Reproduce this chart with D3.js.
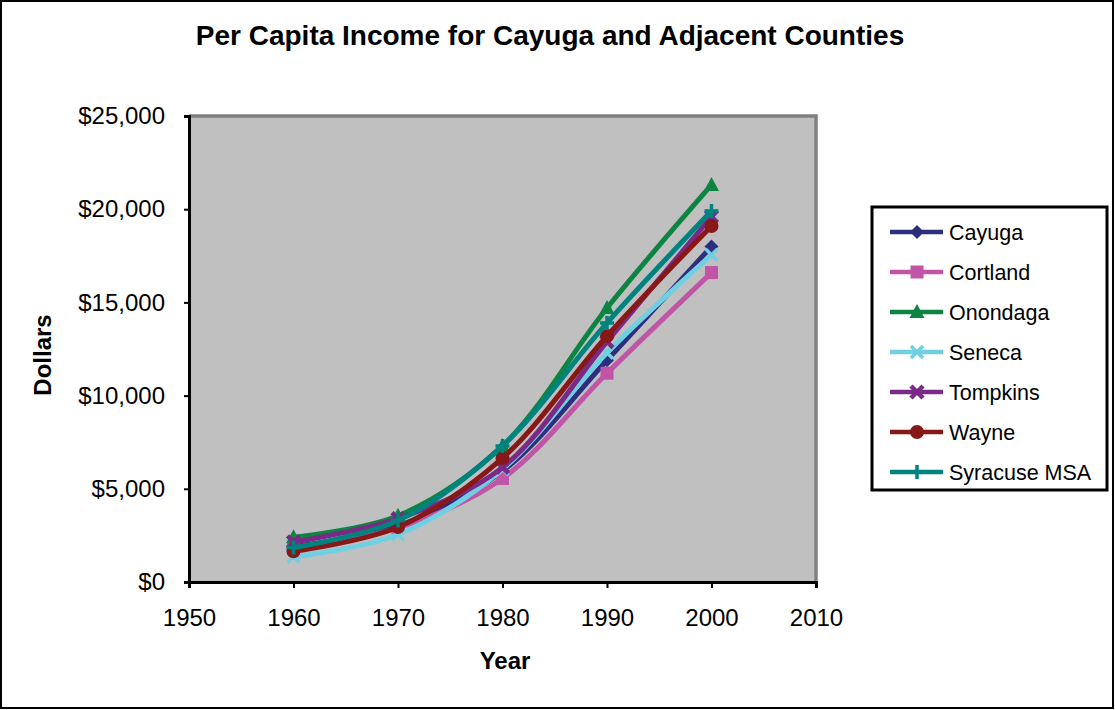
<!DOCTYPE html>
<html>
<head>
<meta charset="utf-8">
<script src="https://cdn.jsdelivr.net/npm/d3@7/dist/d3.min.js"></script>
<style>
  html, body { margin: 0; padding: 0; background: #fff; }
  svg { display: block; font-family: "Liberation Sans", Arial, sans-serif; }
</style>
</head>
<body>
<svg id="chart" width="1115" height="710"></svg>
<script>
const years = [1960, 1970, 1980, 1990, 2000];
const seriesNames = ["Cayuga", "Cortland", "Onondaga", "Seneca", "Tompkins", "Wayne", "Syracuse MSA"];
const cayuga    = [1900, 3000, 5950, 11900, 18000];
const cortland  = [1800, 2900, 5550, 11200, 16600];
const onondaga  = [2400, 3550, 7300, 14700, 21300];
const seneca    = [1350, 2550, 6050, 12300, 17550];
const tompkins  = [2150, 3400, 6150, 12900, 19600];
const wayne     = [1650, 2950, 6650, 13200, 19100];
const syracuse  = [1850, 3300, 7300, 13900, 19900];
const seriesValues = [cayuga, cortland, onondaga, seneca, tompkins, wayne, syracuse];
const seriesColors = ["#2E2E7E", "#C055A8", "#0E8442", "#70D0E2", "#7A2A86", "#861818", "#00827F"];
const seriesMarkers = ["diamond", "square", "triangle", "x", "star", "circle", "plus"];
const yTicks = [0, 5000, 10000, 15000, 20000, 25000];
const xTicks = [1950, 1960, 1970, 1980, 1990, 2000, 2010];

const svg = d3.select("#chart");
const W = 1115, H = 710;

// outer border
svg.append("rect").attr("x", 1).attr("y", 1).attr("width", W - 3).attr("height", H - 3)
  .attr("fill", "#fff").attr("stroke", "#000").attr("stroke-width", 2);

const x = d3.scaleLinear().domain([1950, 2010]).range([189, 816]);
const y = d3.scaleLinear().domain([0, 25000]).range([582, 116]);

// plot area
svg.append("rect").attr("x", x(1950)).attr("y", y(25000))
  .attr("width", x(2010) - x(1950)).attr("height", y(0) - y(25000))
  .attr("fill", "#C0C0C0");
svg.append("path")
  .attr("d", `M${x(1950)},${y(25000)}H${x(2010)}V${y(0)}`)
  .attr("fill", "none").attr("stroke", "#808080").attr("stroke-width", 3.5);

// axes
const yAxis = d3.axisLeft(y).tickValues(yTicks).tickSize(5).tickPadding(19)
  .tickFormat(d => "$" + d3.format(",")(d));
const yG = svg.append("g").attr("transform", `translate(${x(1950)},0)`).call(yAxis);
yG.select(".domain").attr("stroke", "#000").attr("stroke-width", 3);
yG.selectAll(".tick line").attr("stroke", "#000").attr("stroke-width", 2);
yG.selectAll("text").attr("font-size", 24).attr("fill", "#000")
  .attr("font-family", "Liberation Sans, Arial, sans-serif");

const xAxis = d3.axisBottom(x).tickValues(xTicks).tickSize(6).tickPadding(21)
  .tickFormat(d3.format("d"));
const xG = svg.append("g").attr("transform", `translate(0,${y(0)})`).call(xAxis);
xG.select(".domain").attr("stroke", "#000").attr("stroke-width", 3);
xG.selectAll(".tick line").attr("stroke", "#000").attr("stroke-width", 2);
xG.selectAll("text").attr("font-size", 24).attr("fill", "#000")
  .attr("font-family", "Liberation Sans, Arial, sans-serif");

// titles
svg.append("text").attr("x", 550).attr("y", 45).attr("text-anchor", "middle")
  .attr("font-size", 28).attr("font-weight", "bold")
  .text("Per Capita Income for Cayuga and Adjacent Counties");
svg.append("text").attr("x", 505).attr("y", 669).attr("text-anchor", "middle")
  .attr("font-size", 24).attr("font-weight", "bold").text("Year");
svg.append("text").attr("transform", "translate(51,355) rotate(-90)")
  .attr("text-anchor", "middle").attr("font-size", 24).attr("font-weight", "bold").text("Dollars");

// marker drawing
function drawMarker(g, type, color, cx, cy) {
  const s = 7;
  if (type === "diamond") {
    g.append("path").attr("d", `M${cx},${cy - s}L${cx + s},${cy}L${cx},${cy + s}L${cx - s},${cy}Z`).attr("fill", color);
  } else if (type === "square") {
    g.append("rect").attr("x", cx - 6.5).attr("y", cy - 6.5).attr("width", 13).attr("height", 13).attr("fill", color);
  } else if (type === "triangle") {
    g.append("path").attr("d", `M${cx},${cy - 8}L${cx + 7.5},${cy + 6}L${cx - 7.5},${cy + 6}Z`).attr("fill", color);
  } else if (type === "circle") {
    g.append("circle").attr("cx", cx).attr("cy", cy).attr("r", 7).attr("fill", color);
  } else if (type === "x" || type === "star") {
    const r = 6;
    g.append("path").attr("d", `M${cx - r},${cy - r}L${cx + r},${cy + r}M${cx - r},${cy + r}L${cx + r},${cy - r}`)
      .attr("stroke", color).attr("stroke-width", type === "x" ? 3.5 : 4.5).attr("fill", "none");
    if (type === "star") {
      g.append("rect").attr("x", cx - 3).attr("y", cy - 3).attr("width", 6).attr("height", 6).attr("fill", color);
    }
  } else if (type === "plus") {
    const r = 7;
    g.append("path").attr("d", `M${cx - r},${cy}L${cx + r},${cy}M${cx},${cy - r}L${cx},${cy + r}`)
      .attr("stroke", color).attr("stroke-width", 3.5).attr("fill", "none");
  }
}

// series
const line = d3.line().x((d, i) => x(years[i])).y(d => y(d)).curve(d3.curveCatmullRom.alpha(0.5));
const plotG = svg.append("g");
seriesValues.forEach((vals, k) => {
  const g = plotG.append("g");
  g.append("path").attr("d", line(vals)).attr("fill", "none")
    .attr("stroke", seriesColors[k]).attr("stroke-width", 5).attr("stroke-linejoin", "round");
  vals.forEach((v, i) => drawMarker(g, seriesMarkers[k], seriesColors[k], x(years[i]), y(v)));
});

// legend
const lg = svg.append("g");
lg.append("rect").attr("x", 872).attr("y", 207).attr("width", 235).attr("height", 283)
  .attr("fill", "#fff").attr("stroke", "#000").attr("stroke-width", 3);
seriesNames.forEach((name, k) => {
  const cy = 232 + k * 40;
  lg.append("line").attr("x1", 890).attr("x2", 943).attr("y1", cy).attr("y2", cy)
    .attr("stroke", seriesColors[k]).attr("stroke-width", 4.5);
  drawMarker(lg, seriesMarkers[k], seriesColors[k], 917, cy);
  lg.append("text").attr("x", 949).attr("y", cy + 7.5).attr("font-size", 21.5).attr("fill", "#000").text(name);
});
</script>
</body>
</html>
